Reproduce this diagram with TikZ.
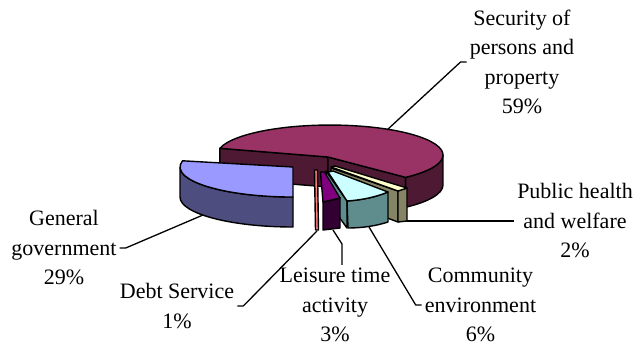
\documentclass[tikz,border=0pt]{standalone}
\usepackage{fontspec}
\setmainfont{Liberation Serif}
\definecolor{plum}{HTML}{993366}
\definecolor{plumdark}{HTML}{4D1933}
\definecolor{peri}{HTML}{9999FF}
\definecolor{peridark}{HTML}{4D4D80}
\definecolor{ivory}{HTML}{FFFFCC}
\definecolor{olive}{HTML}{858566}
\definecolor{aqua}{HTML}{CCFFFF}
\definecolor{teal}{HTML}{5F8C8C}
\definecolor{grape}{HTML}{800080}
\definecolor{grapedark}{HTML}{330033}
\definecolor{coral}{HTML}{FF8080}

\begin{document}
\begin{tikzpicture}[x=1pt,y=-1pt,line join=round]
                        \tikzstyle{face}=[draw=black,line width=1.4pt]
                        \tikzstyle{rim}=[x radius=113,y radius=30]
                        \tikzstyle{lbl}=[font=\fontsize{22}{29.5}\selectfont,align=center,inner sep=3pt]
                        \tikzstyle{leader}=[line width=1.3pt]
                        \useasboundingbox (0,0) rectangle (640,345);
                        % security of persons and property
                        \filldraw[face,fill=plumdark] (219.9,148.3) -- (328,157) -- (328,187) -- (219.9,178.3) -- cycle;
                        \filldraw[face,fill=plumdark] (328,157) -- (405.6,177.3) -- (405.6,207.3) -- (328,187) -- cycle;
                        \filldraw[face,fill=plumdark] (405.6,177.3) arc[rim,start angle=48,end angle=0]
                            -- ++(0,30) arc[rim,start angle=0,end angle=48] -- cycle;
                        \filldraw[face,fill=plum] (328,157) -- (219.9,148.3) arc[rim,start angle=-167,end angle=48] -- cycle;
                        \coordinate (secpin) at (387,130);
                        % public health and welfare
                        \filldraw[face,fill=olive] (331,168) -- (398,191) -- (398,222) -- (331,197) -- cycle;
                        \filldraw[face,fill=olive] (398,191) -- (407,188) -- (407,221) -- (398,222) -- cycle;
                        \filldraw[face,fill=ivory] (331,167) -- (335,166) -- (407,188) -- (398,191) -- cycle;
                        \coordinate (healthpin) at (407,221);
                        % community environment
                        \filldraw[face,fill=teal] (326,171) -- (347,201) -- (347,228) -- (326,199) -- cycle;
                        \filldraw[face,fill=teal] (347,201) .. controls (362,200) and (376,197) .. (388,192)
                            -- (388,222) .. controls (376,226) and (362,228) .. (348,228) -- cycle;
                        \filldraw[face,fill=aqua] (328,172) -- (333,171) -- (388,192)
                            .. controls (376,197) and (362,200) .. (347,201) -- cycle;
                        \coordinate (commpin) at (369,227);
                        % leisure time activity
                        \filldraw[face,fill=grapedark] (323,202) -- (340,198) -- (340,228) -- (323,230) -- cycle;
                        \filldraw[face,fill=grape] (320.5,172) -- (324.5,172) -- (340,198) -- (323,202) -- cycle;
                        \coordinate (leisurepin) at (333,230);
                        % debt service
                        \filldraw[face,fill=coral] (314.5,170) -- (317.5,170) -- (318.5,230) -- (315.5,230) -- cycle;
                        \coordinate (debtpin) at (317,231);
                        % general government
                        \filldraw[face,fill=peridark] (180,167) arc[rim,start angle=-180,end angle=-270]
                            -- ++(0,30) arc[rim,start angle=-270,end angle=-180] -- cycle;
                        \filldraw[face,fill=peri] (293,167) -- (182.5,160.8) arc[rim,start angle=-168,end angle=-270] -- cycle;
                        \coordinate (generalpin) at (203,215);
                        % labels
                        \node[lbl] (security) at (522,62) {Security of\\persons and\\property\\59\%};
                        \node[lbl] (health) at (575,221) {Public health\\and welfare\\2\%};
                        \node[lbl] (community) at (480.5,305) {Community\\environment\\6\%};
                        \node[lbl] (leisure) at (335,305) {Leisure time\\activity\\3\%};
                        \node[lbl] (debt) at (177,306) {Debt Service\\1\%};
                        \node[lbl] (general) at (64,248) {General\\government\\29\%};
                        \draw[leader] (secpin) -- ([xshift=-6pt]security.west) -- (security.west);
                        \draw[leader] (healthpin) -- (health.west |- healthpin);
                        \draw[leader] (commpin) -- ([xshift=-6pt]community.west) -- (community.west);
                        \draw[leader] (leisurepin) -- ++(9,14) -- ([xshift=7pt]leisure.north);
                        \draw[leader] (debtpin) -- ([xshift=6pt]debt.east) -- (debt.east);
                        \draw[leader] (generalpin) -- ([xshift=6pt]general.east) -- (general.east);
\end{tikzpicture}
\end{document}
